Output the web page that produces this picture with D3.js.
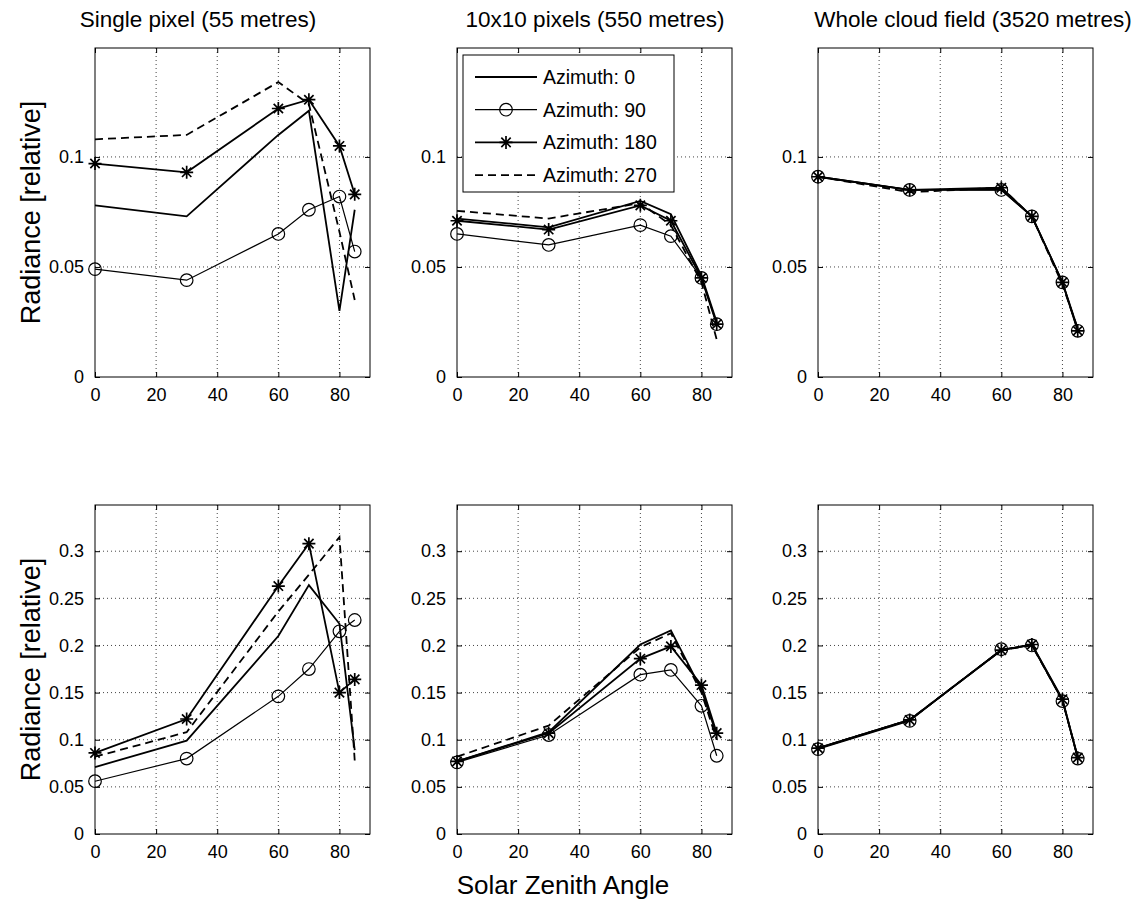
<!DOCTYPE html>
<html>
<head>
<meta charset="utf-8">
<script src="https://cdn.jsdelivr.net/npm/d3@7"></script>
<style>
  body { margin: 0; background: #fff; }
  svg { font-family: "Liberation Sans", Arial, Helvetica, sans-serif; }
  .grid line { stroke: #444; stroke-dasharray: 1,3; stroke-width: 1; }
</style>
</head>
<body>
<div id="chart"></div>
<script>
// solar zenith angles (x values)
var zenith = [0, 30, 60, 70, 80, 85];
var seriesNames = ["Azimuth: 0", "Azimuth: 90", "Azimuth: 180", "Azimuth: 270"];
var panelTitles = ["Single pixel (55 metres)", "10x10 pixels (550 metres)", "Whole cloud field (3520 metres)"];
var xTicks = [0, 20, 40, 60, 80];
var yTicksTop = [0, 0.05, 0.1];
var yTicksBottom = [0, 0.05, 0.1, 0.15, 0.2, 0.25, 0.3];

// each panel: [az 0, az 90, az 180, az 270]
var topSingle = [
  [0.078, 0.073, 0.110, 0.121, 0.030, 0.076],
  [0.049, 0.044, 0.065, 0.076, 0.082, 0.057],
  [0.097, 0.093, 0.122, 0.126, 0.105, 0.083],
  [0.108, 0.110, 0.134, 0.124, 0.066, 0.035]
];
var topTen = [
  [0.072, 0.068, 0.080, 0.074, 0.046, 0.025],
  [0.065, 0.060, 0.069, 0.064, 0.045, 0.024],
  [0.071, 0.067, 0.078, 0.071, 0.045, 0.024],
  [0.0755, 0.072, 0.079, 0.069, 0.043, 0.017]
];
var topWhole = [
  [0.091, 0.085, 0.085, 0.073, 0.043, 0.022],
  [0.091, 0.085, 0.085, 0.073, 0.043, 0.021],
  [0.091, 0.085, 0.086, 0.073, 0.043, 0.021],
  [0.091, 0.084, 0.086, 0.073, 0.042, 0.022]
];
var bottomSingle = [
  [0.071, 0.099, 0.210, 0.264, 0.223, 0.089],
  [0.056, 0.080, 0.146, 0.175, 0.215, 0.227],
  [0.086, 0.122, 0.263, 0.308, 0.150, 0.164],
  [0.082, 0.108, 0.236, 0.275, 0.315, 0.078]
];
var bottomTen = [
  [0.077, 0.108, 0.201, 0.216, 0.153, 0.105],
  [0.076, 0.105, 0.169, 0.174, 0.136, 0.083],
  [0.077, 0.107, 0.186, 0.199, 0.158, 0.107],
  [0.082, 0.115, 0.198, 0.213, 0.150, 0.100]
];
var bottomWhole = [
  [0.091, 0.121, 0.195, 0.201, 0.142, 0.082],
  [0.090, 0.120, 0.196, 0.200, 0.141, 0.080],
  [0.091, 0.121, 0.195, 0.201, 0.143, 0.081],
  [0.091, 0.121, 0.195, 0.200, 0.142, 0.081]
];

var W = 1140, H = 903;
var svg = d3.select("#chart").append("svg").attr("width", W).attr("height", H);

var colLeft = [95, 457, 818], colW = 275;
var titleX = [198, 595, 973];
var rows = [
  {top: 48, h: 329, ymax: 0.1495, ticks: yTicksTop, data: [topSingle, topTen, topWhole]},
  {top: 505, h: 329, ymax: 0.349, ticks: yTicksBottom, data: [bottomSingle, bottomTen, bottomWhole]}
];
var styles = [
  {width: 1.8, dash: null, marker: null},
  {width: 1.2, dash: null, marker: "circle"},
  {width: 1.8, dash: null, marker: "star"},
  {width: 1.8, dash: "8,5", marker: null}
];

function drawMarker(g, type, cx, cy) {
  if (type === "circle") {
    g.append("circle").attr("cx", cx).attr("cy", cy).attr("r", 6.3)
      .attr("fill", "none").attr("stroke", "#000").attr("stroke-width", 1.2);
  } else if (type === "star") {
    var r = 6.5, d = r * 0.72;
    g.append("path")
      .attr("d", "M" + (cx - r) + "," + cy + "H" + (cx + r) +
        "M" + cx + "," + (cy - r) + "V" + (cy + r) +
        "M" + (cx - d) + "," + (cy - d) + "L" + (cx + d) + "," + (cy + d) +
        "M" + (cx - d) + "," + (cy + d) + "L" + (cx + d) + "," + (cy - d))
      .attr("stroke", "#000").attr("stroke-width", 1.7).attr("fill", "none");
  }
}

rows.forEach(function (row, ri) {
  colLeft.forEach(function (left, ci) {
    var x = d3.scaleLinear().domain([0, 90]).range([left, left + colW]);
    var y = d3.scaleLinear().domain([0, row.ymax]).range([row.top + row.h, row.top]);
    var g = svg.append("g");

    // dotted grid
    var grid = g.append("g").attr("class", "grid");
    grid.selectAll(".vx").data(xTicks.slice(1)).enter().append("line")
      .attr("x1", function (d) { return x(d); }).attr("x2", function (d) { return x(d); })
      .attr("y1", row.top).attr("y2", row.top + row.h);
    grid.selectAll(".hy").data(row.ticks.slice(1)).enter().append("line")
      .attr("y1", function (d) { return y(d); }).attr("y2", function (d) { return y(d); })
      .attr("x1", left).attr("x2", left + colW);

    // series
    var line = d3.line().x(function (d, i) { return x(zenith[i]); }).y(function (d) { return y(d); });
    row.data[ci].forEach(function (vals, si) {
      var st = styles[si];
      g.append("path").datum(vals).attr("d", line)
        .attr("fill", "none").attr("stroke", "#000")
        .attr("stroke-width", st.width)
        .attr("stroke-linejoin", "miter")
        .attr("stroke-dasharray", st.dash);
      if (st.marker) vals.forEach(function (v, i) { drawMarker(g, st.marker, x(zenith[i]), y(v)); });
    });

    // box and ticks
    g.append("rect").attr("x", left).attr("y", row.top).attr("width", colW).attr("height", row.h)
      .attr("fill", "none").attr("stroke", "#000").attr("stroke-width", 1);
    var xb = g.append("g").attr("transform", "translate(0," + (row.top + row.h) + ")")
      .call(d3.axisBottom(x).tickValues(xTicks).tickSizeInner(-5).tickSizeOuter(0).tickPadding(11));
    var xt = g.append("g").attr("transform", "translate(0," + row.top + ")")
      .call(d3.axisTop(x).tickValues(xTicks).tickSizeInner(-5).tickSizeOuter(0).tickFormat(""));
    var yl = g.append("g").attr("transform", "translate(" + left + ",0)")
      .call(d3.axisLeft(y).tickValues(row.ticks).tickSizeInner(-5).tickSizeOuter(0).tickPadding(11)
        .tickFormat(function (d) { return d3.format("")(+d.toFixed(2)); }));
    var yr = g.append("g").attr("transform", "translate(" + (left + colW) + ",0)")
      .call(d3.axisRight(y).tickValues(row.ticks).tickSizeInner(-5).tickSizeOuter(0).tickFormat(""));
    [xb, xt, yl, yr].forEach(function (a) {
      a.select(".domain").remove();
      a.selectAll("text").attr("font-size", 18).attr("fill", "#000")
        .attr("font-family", "Liberation Sans, Arial, sans-serif");
    });

    if (ri === 0) {
      svg.append("text").attr("x", titleX[ci]).attr("y", 27)
        .attr("text-anchor", "middle").attr("font-size", 22.5).text(panelTitles[ci]);
    }
    if (ci === 0) {
      svg.append("text")
        .attr("transform", "translate(40," + (row.top + row.h / 2) + ") rotate(-90)")
        .attr("text-anchor", "middle").attr("font-size", 27).text("Radiance [relative]");
    }

    // legend in the top middle panel
    if (ri === 0 && ci === 1) {
      var lg = g.append("g");
      lg.append("rect").attr("x", 463).attr("y", 55).attr("width", 211).attr("height", 137)
        .attr("fill", "#fff").attr("stroke", "#000").attr("stroke-width", 1);
      seriesNames.forEach(function (name, si) {
        var ly = 77 + si * 32.7, st = styles[si];
        lg.append("line").attr("x1", 475).attr("x2", 537).attr("y1", ly).attr("y2", ly)
          .attr("stroke", "#000").attr("stroke-width", st.width).attr("stroke-dasharray", st.dash);
        if (st.marker) drawMarker(lg, st.marker, 506, ly);
        lg.append("text").attr("x", 543).attr("y", ly + 7).attr("font-size", 19.5).text(name);
      });
    }
  });
});

svg.append("text").attr("x", 563).attr("y", 894).attr("text-anchor", "middle")
  .attr("font-size", 26).text("Solar Zenith Angle");
</script>
</body>
</html>
